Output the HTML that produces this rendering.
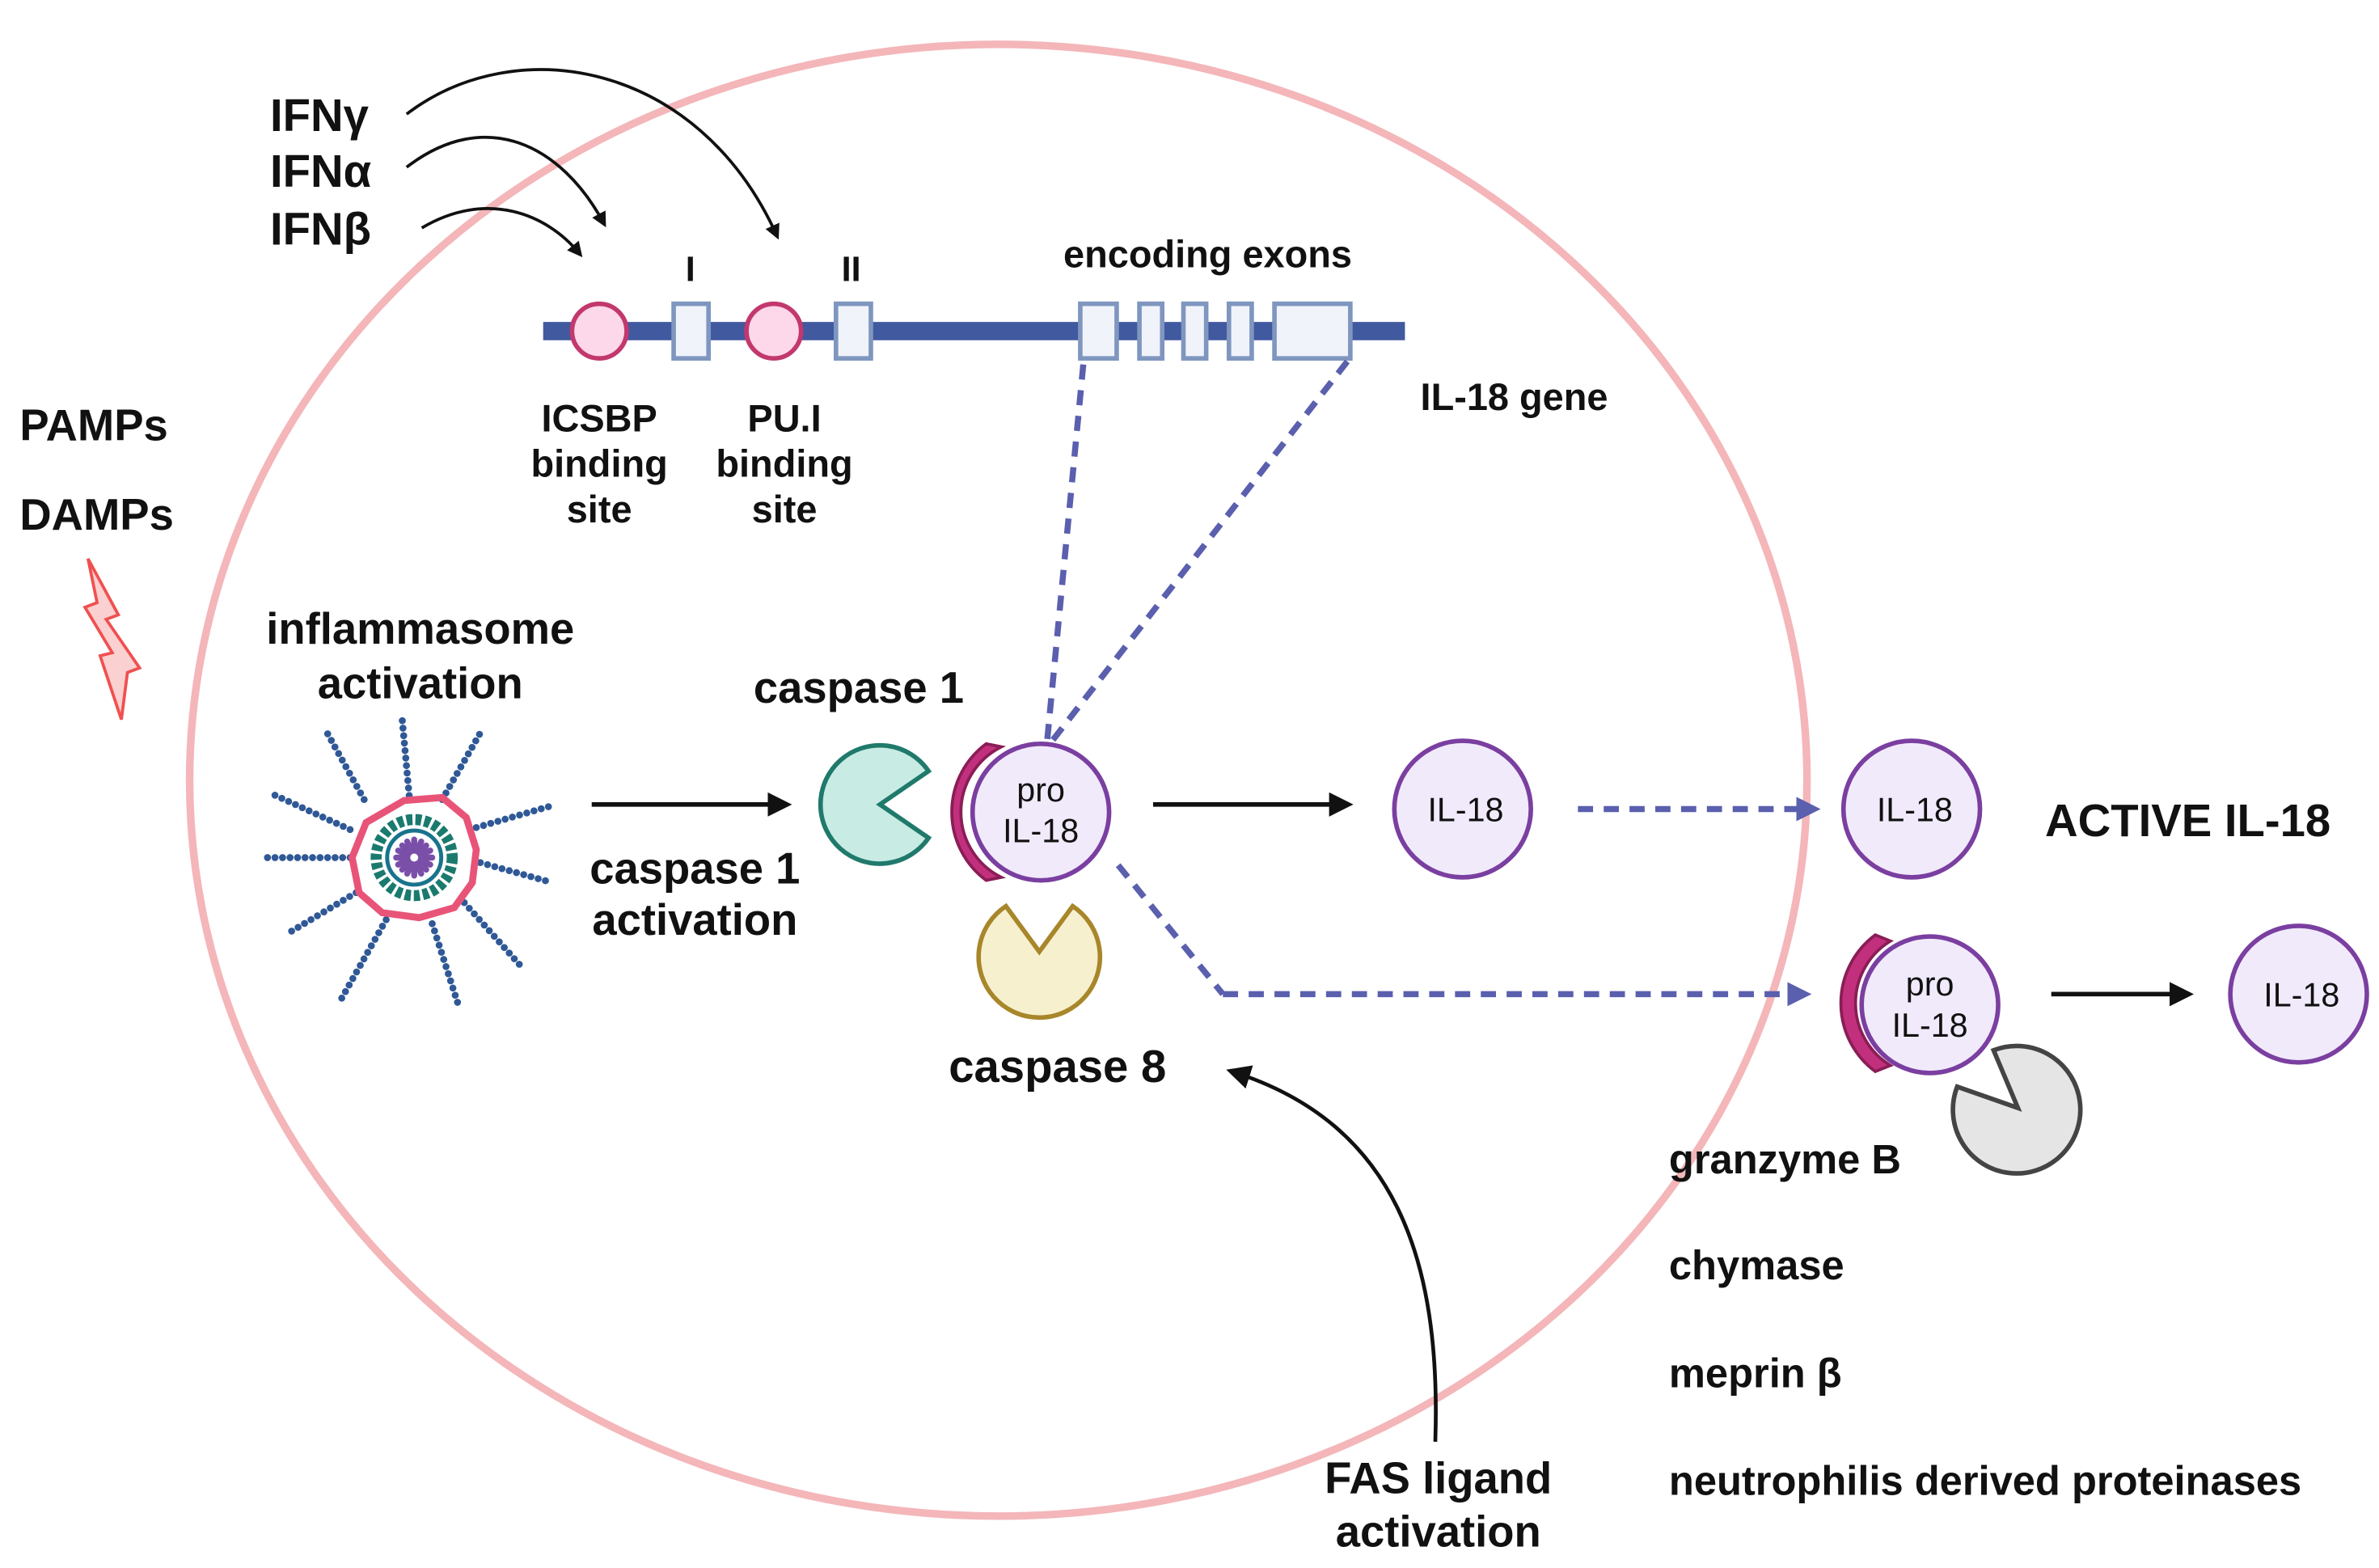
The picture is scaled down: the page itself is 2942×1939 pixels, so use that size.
<!DOCTYPE html>
<html><head><meta charset="utf-8"><style>
html,body{margin:0;padding:0;background:#fff;}
svg{display:block;}
text{font-family:"Liberation Sans",sans-serif;font-weight:bold;fill:#111;}
</style></head><body>
<svg width="2942" height="1939" viewBox="0 0 1568 1033" xmlns="http://www.w3.org/2000/svg">
<defs>
<marker id="ak" markerWidth="10" markerHeight="10" refX="7" refY="5" orient="auto" markerUnits="userSpaceOnUse"><path d="M0,0 L10,5 L0,10 z" fill="#111"/></marker>
<marker id="ab" markerWidth="16" markerHeight="16" refX="12" refY="8" orient="auto" markerUnits="userSpaceOnUse"><path d="M0,0 L16,8 L0,16 z" fill="#111"/></marker>
<marker id="ap" markerWidth="16" markerHeight="16" refX="12" refY="8" orient="auto" markerUnits="userSpaceOnUse"><path d="M0,0 L16,8 L0,16 z" fill="#5a5fae"/></marker>
</defs>
<ellipse cx="658" cy="514" rx="533" ry="485" fill="none" stroke="#f4b6b9" stroke-width="5"/>

<!-- IFN -->
<text x="178" y="86" font-size="30">IFNγ</text>
<text x="178" y="123" font-size="30">IFNα</text>
<text x="178" y="161" font-size="30">IFNβ</text>
<path d="M268,75 C340,20 460,40 512,155" fill="none" stroke="#111" stroke-width="2" marker-end="url(#ak)"/>
<path d="M268,110 C320,70 370,95 398,147" fill="none" stroke="#111" stroke-width="2" marker-end="url(#ak)"/>
<path d="M278,150 C320,125 360,140 382,167" fill="none" stroke="#111" stroke-width="2" marker-end="url(#ak)"/>

<!-- gene -->
<line x1="358" y1="218" x2="926" y2="218" stroke="#41599f" stroke-width="12"/>
<g fill="#f0f3fa" stroke="#7f96bf" stroke-width="3">
<rect x="444" y="200" width="23" height="36"/>
<rect x="551" y="200" width="23" height="36"/>
<rect x="712" y="200" width="24" height="36"/>
<rect x="751" y="200" width="15" height="36"/>
<rect x="780" y="200" width="15" height="36"/>
<rect x="810" y="200" width="15" height="36"/>
<rect x="840" y="200" width="50" height="36"/>
</g>
<g fill="#fdd7ea" stroke="#c2386e" stroke-width="3">
<circle cx="395" cy="218" r="18"/><circle cx="510" cy="218" r="18"/>
</g>
<text x="455" y="185" font-size="23" text-anchor="middle">I</text>
<text x="561" y="185" font-size="23" text-anchor="middle">II</text>
<text x="796" y="176" font-size="25" text-anchor="middle">encoding exons</text>
<text x="998" y="270" font-size="25" text-anchor="middle">IL-18 gene</text>
<text x="395" y="284" font-size="25" text-anchor="middle">ICSBP</text>
<text x="395" y="314" font-size="25" text-anchor="middle">binding</text>
<text x="395" y="344" font-size="25" text-anchor="middle">site</text>
<text x="517" y="284" font-size="25" text-anchor="middle">PU.I</text>
<text x="517" y="314" font-size="25" text-anchor="middle">binding</text>
<text x="517" y="344" font-size="25" text-anchor="middle">site</text>

<!-- dashed lines -->
<g stroke="#5a5fae" stroke-width="4" stroke-dasharray="10,7" fill="none">
<line x1="714" y1="240" x2="690" y2="490"/>
<line x1="888" y1="238" x2="692" y2="490"/>
<line x1="737" y1="570" x2="806" y2="655"/>
<line x1="806" y1="655" x2="1190" y2="655" marker-end="url(#ap)"/>
<line x1="1040" y1="533" x2="1196" y2="533" marker-end="url(#ap)"/>
</g>

<!-- PAMPs -->
<text x="13" y="290" font-size="29">PAMPs</text>
<text x="13" y="349" font-size="29">DAMPs</text>
<path d="M58,368 L78,405 L70,408 L92,440 L84,443 L80,474 L66,432 L74,430 L56,400 L64,397 Z" fill="#fbd0d0" stroke="#f05050" stroke-width="2"/>

<text x="277" y="424" font-size="29" text-anchor="middle">inflammasome</text>
<text x="277" y="460" font-size="29" text-anchor="middle">activation</text>

<!-- inflammasome -->
<g transform="translate(273,565) scale(0.66)">
<g stroke="#2f5896" stroke-width="7" stroke-dasharray="0,7.5" stroke-linecap="round">
<line x1="-5" y1="-62" x2="-12" y2="-138"/>
<line x1="28" y1="-58" x2="68" y2="-128"/>
<line x1="62" y1="-30" x2="138" y2="-52"/>
<line x1="66" y1="5" x2="138" y2="25"/>
<line x1="50" y1="45" x2="108" y2="110"/>
<line x1="18" y1="66" x2="45" y2="150"/>
<line x1="-28" y1="62" x2="-75" y2="145"/>
<line x1="-58" y1="35" x2="-125" y2="75"/>
<line x1="-64" y1="0" x2="-150" y2="0"/>
<line x1="-64" y1="-28" x2="-145" y2="-65"/>
<line x1="-50" y1="-58" x2="-90" y2="-130"/>
</g>
<polygon points="-10,-57 28,-60 52,-40 62,-8 58,25 40,50 5,60 -32,55 -55,35 -62,0 -48,-35" fill="none" stroke="#e85478" stroke-width="7"/>
<circle r="38" fill="none" stroke="#1a7a6e" stroke-width="11" stroke-dasharray="6,3"/>
<circle r="27" fill="none" stroke="#19738c" stroke-width="4"/>
<g stroke="#7a4fa8" stroke-width="6" stroke-linecap="round">
<line x1="-18" y1="0" x2="18" y2="0"/><line x1="0" y1="-18" x2="0" y2="18"/>
<line x1="-12" y1="-12" x2="12" y2="12"/><line x1="-12" y1="12" x2="12" y2="-12"/>
<line x1="-16" y1="-7" x2="16" y2="7"/><line x1="-16" y1="7" x2="16" y2="-7"/>
<line x1="-7" y1="-16" x2="7" y2="16"/><line x1="7" y1="-16" x2="-7" y2="16"/>
</g>
<circle r="4" fill="#fff"/>
</g>

<line x1="390" y1="530" x2="518" y2="530" stroke="#111" stroke-width="3" marker-end="url(#ab)"/>
<text x="458" y="582" font-size="29" text-anchor="middle">caspase 1</text>
<text x="458" y="616" font-size="29" text-anchor="middle">activation</text>
<text x="566" y="463" font-size="29" text-anchor="middle">caspase 1</text>

<path d="M580,530 L612,508 A39,39 0 1,0 612,552 Z" fill="#c8ebe3" stroke="#1f7a6c" stroke-width="3"/>
<path d="M660,492 A48,48 0 0,0 660,578 L650,580 A56,56 0 0,1 650,490 Z" fill="#c2307d" stroke="#8a1d56" stroke-width="2"/>
<circle cx="686" cy="535" r="45" fill="#f1eafb" stroke="#7a3fa0" stroke-width="3"/>
<text x="686" y="528" font-size="22" text-anchor="middle" style="font-weight:normal">pro</text>
<text x="686" y="555" font-size="22" text-anchor="middle" style="font-weight:normal">IL-18</text>
<path d="M685,627 L663,597 A40,40 0 1,0 707,597 Z" fill="#f6f0cf" stroke="#a8862a" stroke-width="3"/>
<text x="697" y="713" font-size="30" text-anchor="middle">caspase 8</text>

<line x1="760" y1="530" x2="888" y2="530" stroke="#111" stroke-width="3" marker-end="url(#ab)"/>
<circle cx="964" cy="533" r="45" fill="#f1eafb" stroke="#7a3fa0" stroke-width="3"/>
<text x="966" y="541" font-size="22" text-anchor="middle" style="font-weight:normal">IL-18</text>
<circle cx="1260" cy="533" r="45" fill="#f1eafb" stroke="#7a3fa0" stroke-width="3"/>
<text x="1262" y="541" font-size="22" text-anchor="middle" style="font-weight:normal">IL-18</text>
<text x="1442" y="551" font-size="30" text-anchor="middle">ACTIVE IL-18</text>

<path d="M1246,620 A48,48 0 0,0 1246,702 L1236,706 A56,56 0 0,1 1236,616 Z" fill="#c2307d" stroke="#8a1d56" stroke-width="2"/>
<circle cx="1272" cy="662" r="45" fill="#f1eafb" stroke="#7a3fa0" stroke-width="3"/>
<text x="1272" y="656" font-size="22" text-anchor="middle" style="font-weight:normal">pro</text>
<text x="1272" y="683" font-size="22" text-anchor="middle" style="font-weight:normal">IL-18</text>
<path d="M1330,730 L1314,692 A42,42 0 1,1 1290,716 Z" fill="#e5e5e5" stroke="#444" stroke-width="3"/>
<line x1="1352" y1="655" x2="1442" y2="655" stroke="#111" stroke-width="3" marker-end="url(#ab)"/>
<circle cx="1515" cy="655" r="45" fill="#f1eafb" stroke="#7a3fa0" stroke-width="3"/>
<text x="1517" y="663" font-size="22" text-anchor="middle" style="font-weight:normal">IL-18</text>

<text x="1100" y="773" font-size="27">granzyme B</text>
<text x="1100" y="843" font-size="27">chymase</text>
<text x="1100" y="914" font-size="27">meprin β</text>
<text x="1100" y="985" font-size="27">neutrophilis derived proteinases</text>

<path d="M946,950 C950,830 920,740 812,706" fill="none" stroke="#111" stroke-width="2.5" marker-end="url(#ab)"/>
<text x="948" y="984" font-size="29" text-anchor="middle">FAS ligand</text>
<text x="948" y="1019" font-size="29" text-anchor="middle">activation</text>
</svg>
</body></html>
